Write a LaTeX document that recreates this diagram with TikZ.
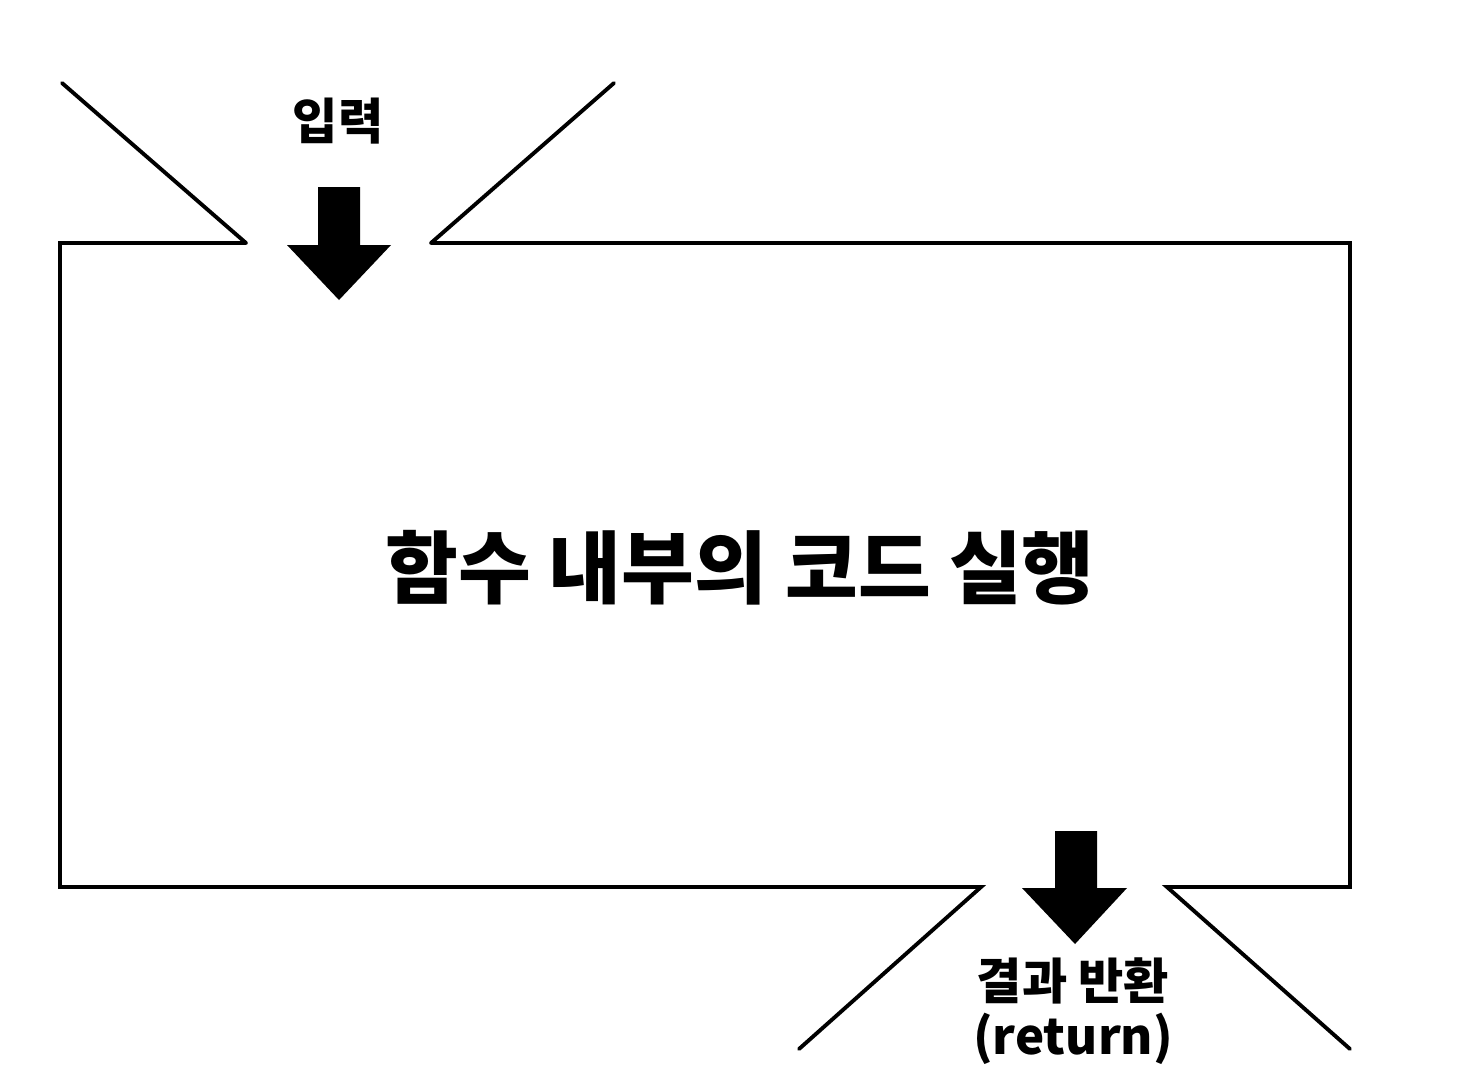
\documentclass[tikz,border=0pt]{standalone}
\usepackage{fontspec}
\newfontfamily\kr{Noto Sans CJK KR}
\usepackage{tikz}
\usetikzlibrary{positioning}
\tikzset{
  wall/.style={line width=1.1pt, line cap=round, line join=miter},
  blockarrow/.style={fill=black, draw=none},
  lbl/.style={font=\kr\bfseries\fontsize{14}{15.5}\selectfont, align=center, inner sep=0pt},
  title/.style={font=\kr\bfseries\fontsize{22.5}{24}\selectfont, inner sep=0pt}
}

\begin{document}
\begin{tikzpicture}[x=0.01cm, y=-0.01cm]
      \useasboundingbox (0,0) rectangle (1480,1072);
      % the box with its two openings
      \coordinate (tl) at (60,243);
      \coordinate (tr) at (1350,243);
      \coordinate (bl) at (60,887);
      \coordinate (br) at (1350,887);
      \coordinate (inL) at (246,243);
      \coordinate (inR) at (431,243);
      \coordinate (outL) at (981,887);
      \coordinate (outR) at (1167,887);
      \draw[wall] (inL) -- (tl) -- (bl) -- (outL) -- (799,1049);
      \draw[wall] (inR) -- (tr) -- (br) -- (outR) -- (1350,1049);
      \draw[wall] (62,83) -- (inL);
      \draw[wall] (614,83) -- (inR);
      % arrows in and out
      \fill[blockarrow] (318,187) -- (360,187) -- (360,245) -- (391,245) -- (339,300) -- (287,245) -- (318,245) -- cycle;
      \fill[blockarrow] (1055,831) -- (1097,831) -- (1097,888) -- (1127,888) -- (1075,944) -- (1022,888) -- (1055,888) -- cycle;
      \node[lbl] (input) at (338,121) {입력};
      \node[title] (body) at (740,568) {함수 내부의 코드 실행};
      \node[lbl] (output) at (1073,1011) {결과 반환\\(return)};
\end{tikzpicture}
\end{document}
